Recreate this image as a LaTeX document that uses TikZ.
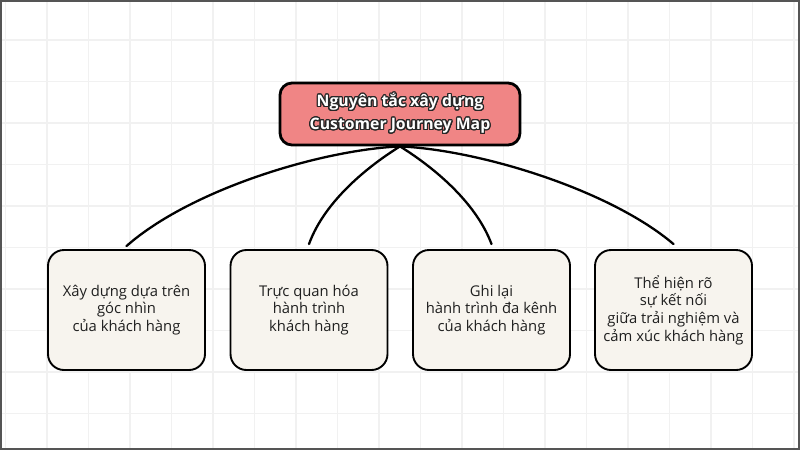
\documentclass[tikz,border=0pt]{standalone}
\usepackage{fontspec}
\setmainfont{Open Sans}
\usepackage{contour}
\contourlength{1.1pt}
\contournumber{24}
\definecolor{coral}{HTML}{F08585}
\definecolor{cream}{HTML}{F7F4EE}
\definecolor{gridc}{HTML}{F1F1F1}
\definecolor{framec}{HTML}{555555}
\tikzset{
  titlebox/.style={draw=black, line width=2.8pt, fill=coral, rounded corners=12pt,
    minimum width=240pt, minimum height=62pt, align=center, inner sep=0pt,
    font=\bfseries\fontsize{15.8}{23}\selectfont, text=white},
  itembox/.style={draw=black, line width=1.9pt, fill=cream, rounded corners=16pt,
    minimum width=157pt, minimum height=120pt, align=center, inner sep=0pt,
    font=\fontsize{14.8}{17.6}\selectfont, text=black!88},
  link/.style={draw=black, line width=2.3pt, line cap=round}
}
\begin{document}
\begin{tikzpicture}[x=1pt,y=-1pt]
\useasboundingbox (0,0) rectangle (800,450);
\fill[white] (0,0) rectangle (800,450);
\foreach \i in {0,...,19} {\draw[gridc, line width=1.2pt] (5.5+41.5*\i,0) -- (5.5+41.5*\i,450);}
\foreach \j in {0,...,11} {\draw[gridc, line width=1.2pt] (0,-1.5+41.5*\j) -- (800,-1.5+41.5*\j);}
\draw[framec, line width=2pt] (1,1) rectangle (799,449);

\node[titlebox] (top) at (400,114) {\contour{black!85}{Nguyên tắc xây dựng}\\\contour{black!85}{Customer Journey Map}};

\node[itembox] (b1) at (126.5,310) {Xây dựng dựa trên\\góc nhìn\\của khách hàng};
\node[itembox] (b2) at (309,310) {Trực quan hóa\\hành trình\\khách hàng};
\node[itembox] (b3) at (491.5,310) {Ghi lại\\hành trình đa kênh\\của khách hàng};
\node[itembox] (b4) at (673.5,310) {Thể hiện rõ\\sự kết nối\\giữa trải nghiệm và\\cảm xúc khách hàng};

\draw[link] (top.south) .. controls (320,150) and (190,190) .. ([yshift=3pt]b1.north);
\draw[link] (top.south) .. controls (370,165) and (325,200) .. ([yshift=5pt]b2.north);
\draw[link] (top.south) .. controls (430,165) and (475,200) .. ([yshift=5pt]b3.north);
\draw[link] (top.south) .. controls (480,150) and (610,190) .. ([yshift=5pt]b4.north);
\end{tikzpicture}
\end{document}
